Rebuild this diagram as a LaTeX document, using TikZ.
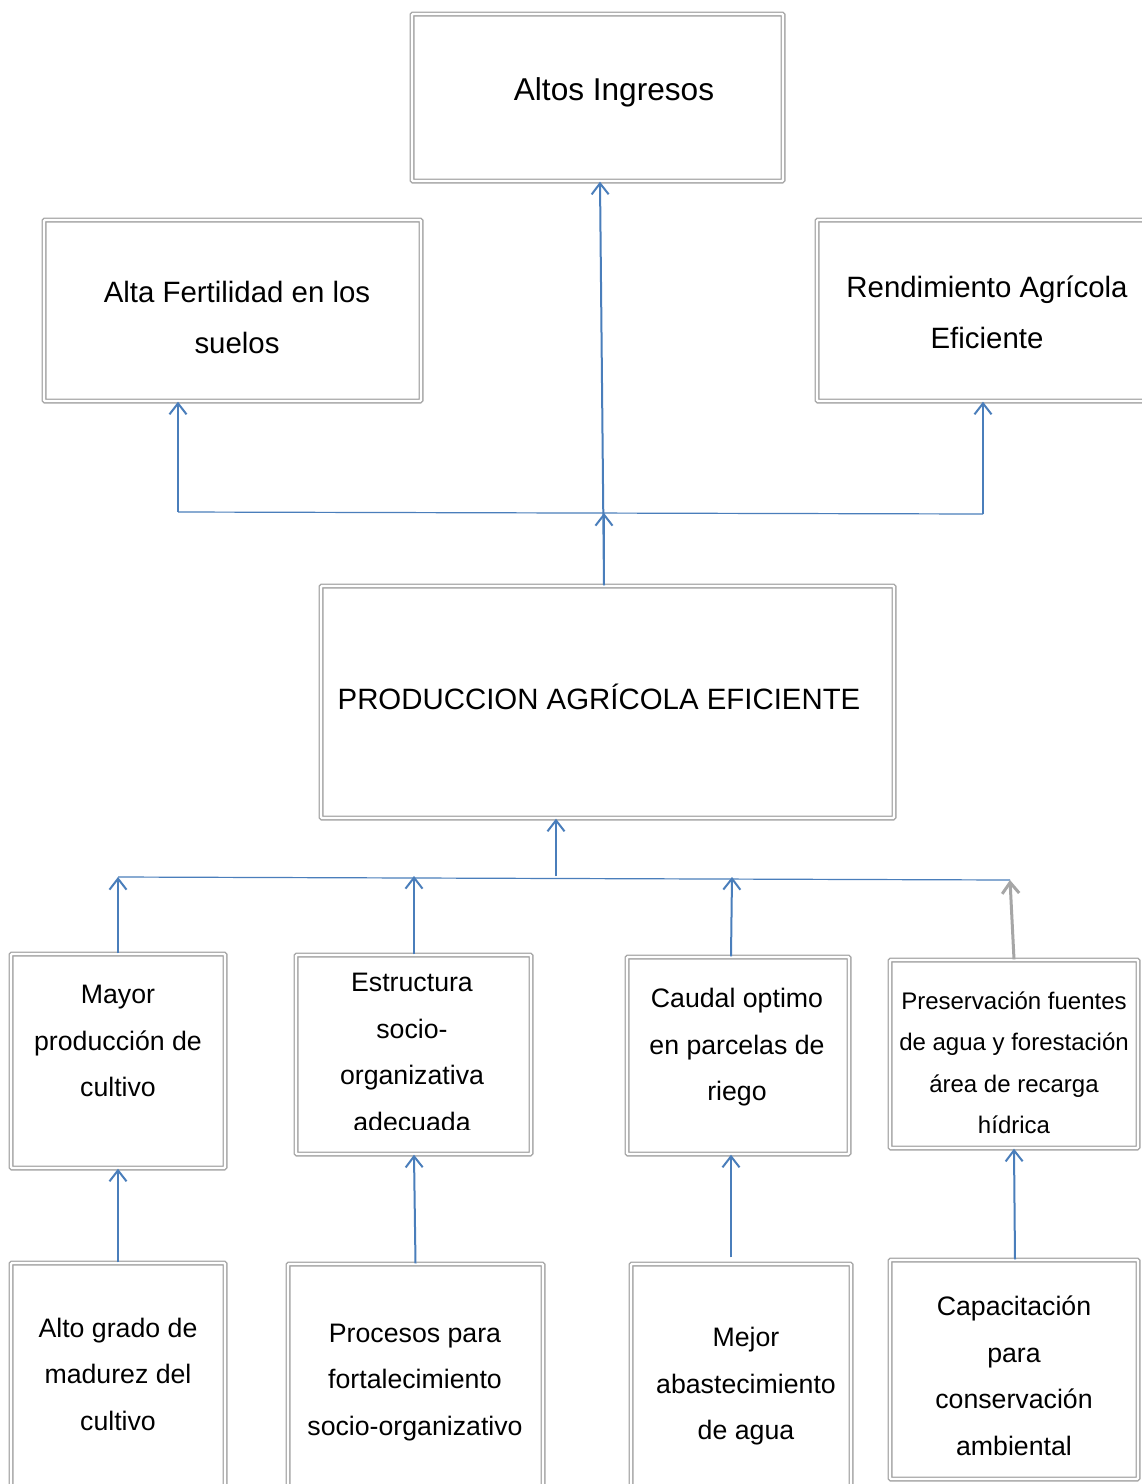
\documentclass[tikz,border=0pt]{standalone}
\usepackage{fontspec}
\setmainfont{Liberation Sans}
\usetikzlibrary{arrows.meta}
\definecolor{boxgray}{HTML}{A6A6A6}
\definecolor{linkblue}{HTML}{4A7EBB}
\begin{document}
\begin{tikzpicture}[x=1pt,y=-1pt,
  framebox/.style={draw=boxgray, double=white, double distance=2.2pt, line width=1.4pt,
    rectangle, inner sep=0pt, rounded corners=1pt},
  lbl/.style={align=center, inner sep=0pt, text=black},
  bigtxt/.style={lbl, font=\fontsize{31.6}{40}\selectfont},
  midtxt/.style={lbl, font=\fontsize{29.4}{51}\selectfont},
  smalltxt/.style={lbl, font=\fontsize{26.7}{46.5}\selectfont},
  tinytxt/.style={lbl, font=\fontsize{24}{41.5}\selectfont},
  uparrow/.style={draw=linkblue, line width=2pt, -{Straight Barb[length=11pt,width=17pt]}},
  grayarrow/.style={draw=boxgray, line width=3pt, -{Straight Barb[length=11pt,width=17pt]}},
  hline/.style={draw=linkblue, line width=1.2pt}]
\useasboundingbox (0,0) rectangle (1142,1484);
\clip (0,0) rectangle (1142,1484);
\fill[white] (0,0) rectangle (1142,1484);

% frames
\node[framebox, minimum width=371, minimum height=167] (altos) at (597.5,97.5) {};
\node[framebox, minimum width=377, minimum height=181] (fert)  at (232.5,310.5) {};
\node[framebox, minimum width=341, minimum height=181] (rend)  at (987.5,310.5) {};
\node[framebox, minimum width=573, minimum height=232] (prod)  at (607.5,702) {};
\node[framebox, minimum width=214, minimum height=214] (mayor) at (118,1061) {};
\node[framebox, minimum width=235, minimum height=199] (estr)  at (413.5,1054.5) {};
\node[framebox, minimum width=222, minimum height=197] (caudal) at (738,1055.5) {};
\node[framebox, minimum width=248, minimum height=188] (pres)  at (1014,1054) {};
\node[framebox, minimum width=214, minimum height=247] (alto)  at (118,1386.5) {};
\node[framebox, minimum width=255, minimum height=246] (proc)  at (415.5,1387) {};
\node[framebox, minimum width=220, minimum height=246] (mejor) at (741,1387) {};
\node[framebox, minimum width=248, minimum height=219] (capa)  at (1014,1369.5) {};

% labels
\node[bigtxt] (altosT) at (614,92) {Altos Ingresos};
\node[midtxt] (fertT) at (237,317.5) {Alta Fertilidad en los\\suelos};
\node[midtxt] (rendT) at (987,312) {Rendimiento Agrícola\\Eficiente};
\node[midtxt] (prodT) at (599,697) {PRODUCCION AGRÍCOLA EFICIENTE};
\node[smalltxt] (mayorT) at (118,1041) {Mayor\\producción de\\cultivo};
\begin{scope}
  % the last line of this label is cut off by its frame
  \clip (296,958) rectangle (531,1129);
  \node[smalltxt] (estrT) at (412,1052.5) {Estructura\\socio-\\organizativa\\adecuada};
\end{scope}
\node[smalltxt] (caudalT) at (737,1047.5) {Caudal optimo\\en parcelas de\\riego};
\node[tinytxt] (presT) at (1014,1063) {Preservación fuentes\\de agua y forestación\\área de recarga\\hídrica};
\node[smalltxt] (altoT) at (118,1374) {Alto grado de\\madurez del\\cultivo};
\node[smalltxt] (procT) at (415,1382.5) {Procesos para\\fortalecimiento\\socio-organizativo};
\node[smalltxt] (mejorT) at (746,1386.5) {Mejor\\abastecimiento\\de agua};
\node[smalltxt] (capaT) at (1014,1376) {Capacitación\\para\\conservación\\ambiental};

% upper connectors
\coordinate (tl) at (178,512);
\coordinate (tr) at (983,514);
\coordinate (tophub) at (604,513);
\draw[hline] (tl) -- (tr);
\draw[uparrow] (tl) -- (tl |- fert.south);
\draw[uparrow] (tr) -- (tr |- rend.south);
\draw[uparrow] ([xshift=-3.5pt]prod.north) -- (tophub);
\draw[uparrow] ([xshift=-3.5pt]prod.north) -- ([xshift=2.5pt]altos.south);

% lower connectors
\coordinate (bl) at (118,877);
\coordinate (br) at (1010,880);
\coordinate (lowhub) at (556,876);
\coordinate (h2) at (414,876);
\coordinate (h3) at (732,877);
\draw[hline] (bl) -- (br);
\draw[uparrow] (lowhub) -- (lowhub |- prod.south);
\draw[uparrow] (mayor.north) -- (bl);
\draw[uparrow] ([xshift=0.5pt]estr.north) -- (h2);
\draw[uparrow] ([xshift=-7pt]caudal.north) -- (h3);
\draw[grayarrow] (pres.north) -- (br);

% bottom connectors
\draw[uparrow] (alto.north) -- (mayor.south);
\draw[uparrow] (proc.north) -- ([xshift=0.5pt]estr.south);
\draw[uparrow] ([xshift=-10pt,yshift=6pt]mejor.north) -- ([xshift=-7pt]caudal.south);
\draw[uparrow] ([xshift=1pt]capa.north) -- (pres.south);
\end{tikzpicture}
\end{document}
